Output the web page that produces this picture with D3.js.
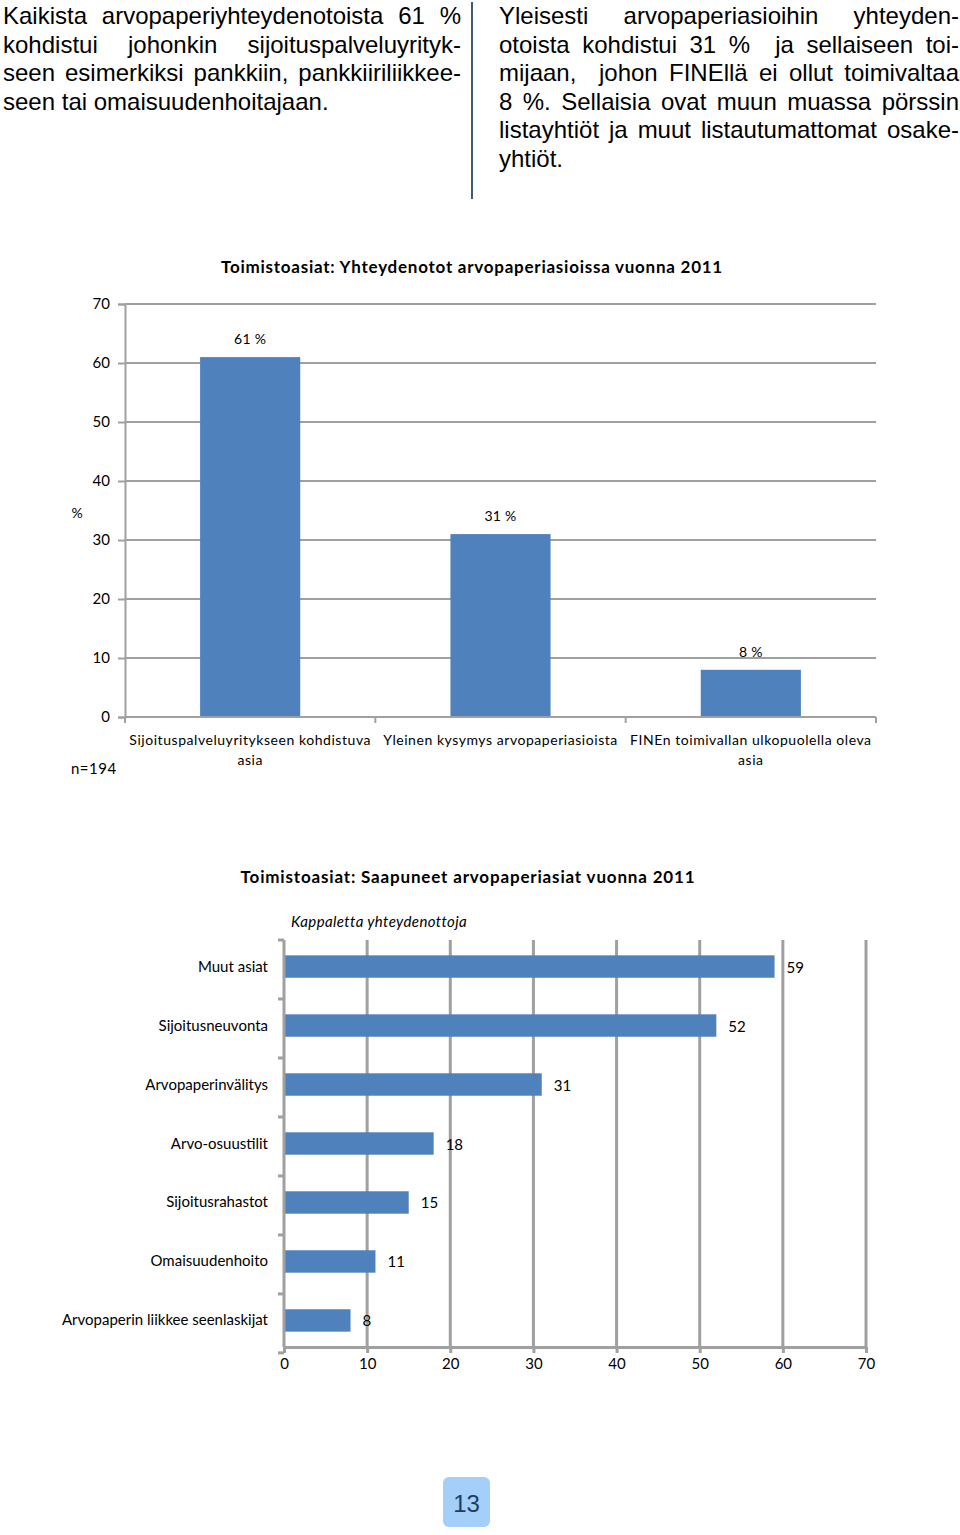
<!DOCTYPE html>
<html><head><meta charset="utf-8">
<script src="https://cdn.jsdelivr.net/npm/d3@7"></script>
<style>
html,body{margin:0;padding:0;background:#fff;}
svg{display:block;}
</style></head>
<body>
<svg id="c" width="960" height="1535"></svg>
<script>
// ---- Text data ----
const leftLines = [
  "Kaikista arvopaperiyhteydenotoista 61 %",
  "kohdistui johonkin sijoituspalveluyrityk-",
  "seen esimerkiksi pankkiin, pankkiiriliikkee-",
  "seen tai omaisuudenhoitajaan."
];
const rightLines = [
  "Yleisesti arvopaperiasioihin yhteyden-",
  "otoista kohdistui 31 %  ja sellaiseen toi-",
  "mijaan,  johon FINEllä ei ollut toimivaltaa",
  "8 %. Sellaisia ovat muun muassa pörssin",
  "listayhtiöt ja muut listautumattomat osake-",
  "yhtiöt."
];

// ---- Chart 1 data ----
const chart1Title = "Toimistoasiat: Yhteydenotot arvopaperiasioissa vuonna 2011";
const chart1Categories = [
  ["Sijoituspalveluyritykseen kohdistuva", "asia"],
  ["Yleinen kysymys arvopaperiasioista"],
  ["FINEn toimivallan ulkopuolella oleva", "asia"]
];
const chart1Values = [61, 31, 8];
const chart1Ticks = [0, 10, 20, 30, 40, 50, 60, 70];

// ---- Chart 2 data ----
const chart2Title = "Toimistoasiat: Saapuneet arvopaperiasiat vuonna 2011";
const chart2Subtitle = "Kappaletta yhteydenottoja";
const chart2Categories = ["Muut asiat", "Sijoitusneuvonta", "Arvopaperinvälitys", "Arvo-osuustilit", "Sijoitusrahastot", "Omaisuudenhoito", "Arvopaperin liikkee seenlaskijat"];
const chart2Values = [59, 52, 31, 18, 15, 11, 8];
const chart2Ticks = [0, 10, 20, 30, 40, 50, 60, 70];

const pageNumber = "13";

const svg = d3.select("#c");
const BLUE = "#4f81bd";
const GRID = "#a0a0a0";
const CHART_FONT = "Lato, 'Open Sans', sans-serif";

// ---- Justified paragraphs ----
function paragraph(lines, x0, x1, y0, lh) {
  const g = svg.append("g").attr("font-family", "'Liberation Sans', Arial, sans-serif")
    .attr("font-size", 24).attr("fill", "#000");
  lines.forEach((line, i) => {
    const y = y0 + i * lh;
    const last = i === lines.length - 1;
    if (last) {
      g.append("text").attr("x", x0).attr("y", y).text(line);
      return;
    }
    const words = line.split(" ");
    const nodes = words.map(w => g.append("text").attr("y", y).text(w));
    const widths = nodes.map(n => n.node().getComputedTextLength());
    const total = d3.sum(widths);
    const gap = (x1 - x0 - total) / (words.length - 1);
    let x = x0;
    nodes.forEach((n, j) => { n.attr("x", x); x += widths[j] + gap; });
  });
}
paragraph(leftLines, 3, 461, 24, 28.5);
paragraph(rightLines, 499, 959, 24, 28.5);

svg.append("line").attr("x1", 472).attr("x2", 472).attr("y1", 2).attr("y2", 199)
  .attr("stroke", "#3d5a78").attr("stroke-width", 2);

// ---- Chart 1: vertical bars ----
{
  const left = 125, right = 876, top = 304, bottom = 717;
  const y = d3.scaleLinear().domain([0, 70]).range([bottom, top]);
  const x = d3.scaleBand().domain(d3.range(chart1Values.length)).range([left, right])
    .paddingInner(0.6).paddingOuter(0.3);
  const g = svg.append("g").attr("font-family", CHART_FONT);

  svg.append("text").attr("x", 472).attr("y", 273).attr("text-anchor", "middle")
    .attr("font-family", CHART_FONT).attr("font-weight", "bold").attr("font-size", 17)
    .attr("letter-spacing", 0.75)
    .text(chart1Title);

  // gridlines
  g.append("g").selectAll("line").data(chart1Ticks.filter(t => t > 0)).join("line")
    .attr("x1", left).attr("x2", right).attr("y1", d => y(d)).attr("y2", d => y(d))
    .attr("stroke", GRID).attr("stroke-width", 2);

  // y axis
  const ya = g.append("g").attr("transform", `translate(${left},0)`)
    .call(d3.axisLeft(y).tickValues(chart1Ticks).tickSize(7).tickPadding(8));
  ya.select(".domain").attr("stroke", GRID).attr("stroke-width", 2);
  ya.selectAll(".tick line").attr("stroke", GRID).attr("stroke-width", 2);
  ya.selectAll(".tick text").attr("font-size", 15).attr("fill", "#000").attr("font-family", CHART_FONT);

  // bars
  g.append("g").selectAll("rect").data(chart1Values).join("rect")
    .attr("x", (d, i) => x(i)).attr("width", x.bandwidth())
    .attr("y", d => y(d)).attr("height", d => y(0) - y(d)).attr("fill", BLUE);

  // x axis line and ticks
  g.append("line").attr("x1", left).attr("x2", right).attr("y1", bottom).attr("y2", bottom)
    .attr("stroke", GRID).attr("stroke-width", 2);
  const bounds = d3.range(chart1Values.length + 1).map(i => left + i * x.step());
  g.append("g").selectAll("line").data(bounds).join("line")
    .attr("x1", d => d).attr("x2", d => d).attr("y1", bottom).attr("y2", bottom + 6)
    .attr("stroke", GRID).attr("stroke-width", 2);

  // value labels
  g.append("g").selectAll("text").data(chart1Values).join("text")
    .attr("x", (d, i) => x(i) + x.bandwidth() / 2).attr("y", d => y(d) - 13)
    .attr("text-anchor", "middle").attr("font-size", 14).attr("letter-spacing", 0.3)
    .text(d => d + " %");

  // category labels
  chart1Categories.forEach((lines, i) => {
    const cx = x(i) + x.bandwidth() / 2;
    lines.forEach((t, j) => {
      g.append("text").attr("x", cx).attr("y", 745 + j * 20).attr("text-anchor", "middle")
        .attr("font-size", 14).attr("letter-spacing", 0.55).text(t);
    });
  });

  g.append("text").attr("x", 77).attr("y", 518).attr("text-anchor", "middle")
    .attr("font-size", 14).text("%");
  g.append("text").attr("x", 71).attr("y", 774).attr("font-size", 15)
    .attr("letter-spacing", 0.5).text("n=194");
}

// ---- Chart 2: horizontal bars ----
{
  const left = 284, right = 866, top = 940, bottom = 1347;
  const x = d3.scaleLinear().domain([0, 70]).range([left, right]);
  const y = d3.scaleBand().domain(chart2Categories).range([top, bottom])
    .paddingInner(0.62).paddingOuter(0.26);
  const g = svg.append("g").attr("font-family", CHART_FONT);

  svg.append("text").attr("x", 468).attr("y", 883).attr("text-anchor", "middle")
    .attr("font-family", CHART_FONT).attr("font-weight", "bold").attr("font-size", 17)
    .attr("letter-spacing", 0.83)
    .text(chart2Title);
  g.append("text").attr("x", 291).attr("y", 927).attr("font-style", "italic")
    .attr("font-size", 15).attr("letter-spacing", 0.4).text(chart2Subtitle);

  // vertical gridlines
  g.append("g").selectAll("line").data(chart2Ticks.filter(t => t > 0)).join("line")
    .attr("x1", d => x(d)).attr("x2", d => x(d)).attr("y1", top).attr("y2", bottom)
    .attr("stroke", GRID).attr("stroke-width", 3);

  // bars
  g.append("g").selectAll("rect").data(chart2Values).join("rect")
    .attr("x", x(0)).attr("y", (d, i) => y(chart2Categories[i]))
    .attr("width", d => x(d) - x(0)).attr("height", y.bandwidth()).attr("fill", BLUE);

  // y axis line + boundary ticks
  g.append("line").attr("x1", left).attr("x2", left).attr("y1", top).attr("y2", bottom)
    .attr("stroke", GRID).attr("stroke-width", 3);
  const bounds = d3.range(chart2Categories.length + 1).map(i => top + i * y.step());
  g.append("g").selectAll("line").data(bounds).join("line")
    .attr("x1", left - 6).attr("x2", left).attr("y1", d => d).attr("y2", d => d)
    .attr("stroke", GRID).attr("stroke-width", 3);

  // x axis
  const xa = g.append("g").attr("transform", `translate(0,${bottom})`)
    .call(d3.axisBottom(x).tickValues(chart2Ticks).tickSize(6).tickPadding(5).tickSizeOuter(0));
  xa.select(".domain").attr("stroke", GRID).attr("stroke-width", 3);
  xa.selectAll(".tick line").attr("stroke", GRID).attr("stroke-width", 3);
  xa.selectAll(".tick text").attr("font-size", 15).attr("fill", "#000").attr("font-family", CHART_FONT);

  // category labels
  g.append("g").selectAll("text").data(chart2Categories).join("text")
    .attr("x", 268).attr("y", d => y(d) + y.bandwidth() / 2 + 5)
    .attr("text-anchor", "end").attr("font-size", 15).text(d => d);

  // value labels
  g.append("g").selectAll("text").data(chart2Values).join("text")
    .attr("x", d => x(d) + 12).attr("y", (d, i) => y(chart2Categories[i]) + y.bandwidth() / 2 + 6)
    .attr("font-size", 15).text(d => d);
}

// ---- Page number ----
svg.append("rect").attr("x", 443).attr("y", 1477).attr("width", 47).attr("height", 50)
  .attr("rx", 6).attr("fill", "#a3cff9");
svg.append("text").attr("x", 466.5).attr("y", 1512).attr("text-anchor", "middle")
  .attr("font-family", "'Liberation Sans', Arial, sans-serif").attr("font-size", 24)
  .attr("fill", "#1e3c64").text(pageNumber);
</script>
</body></html>
